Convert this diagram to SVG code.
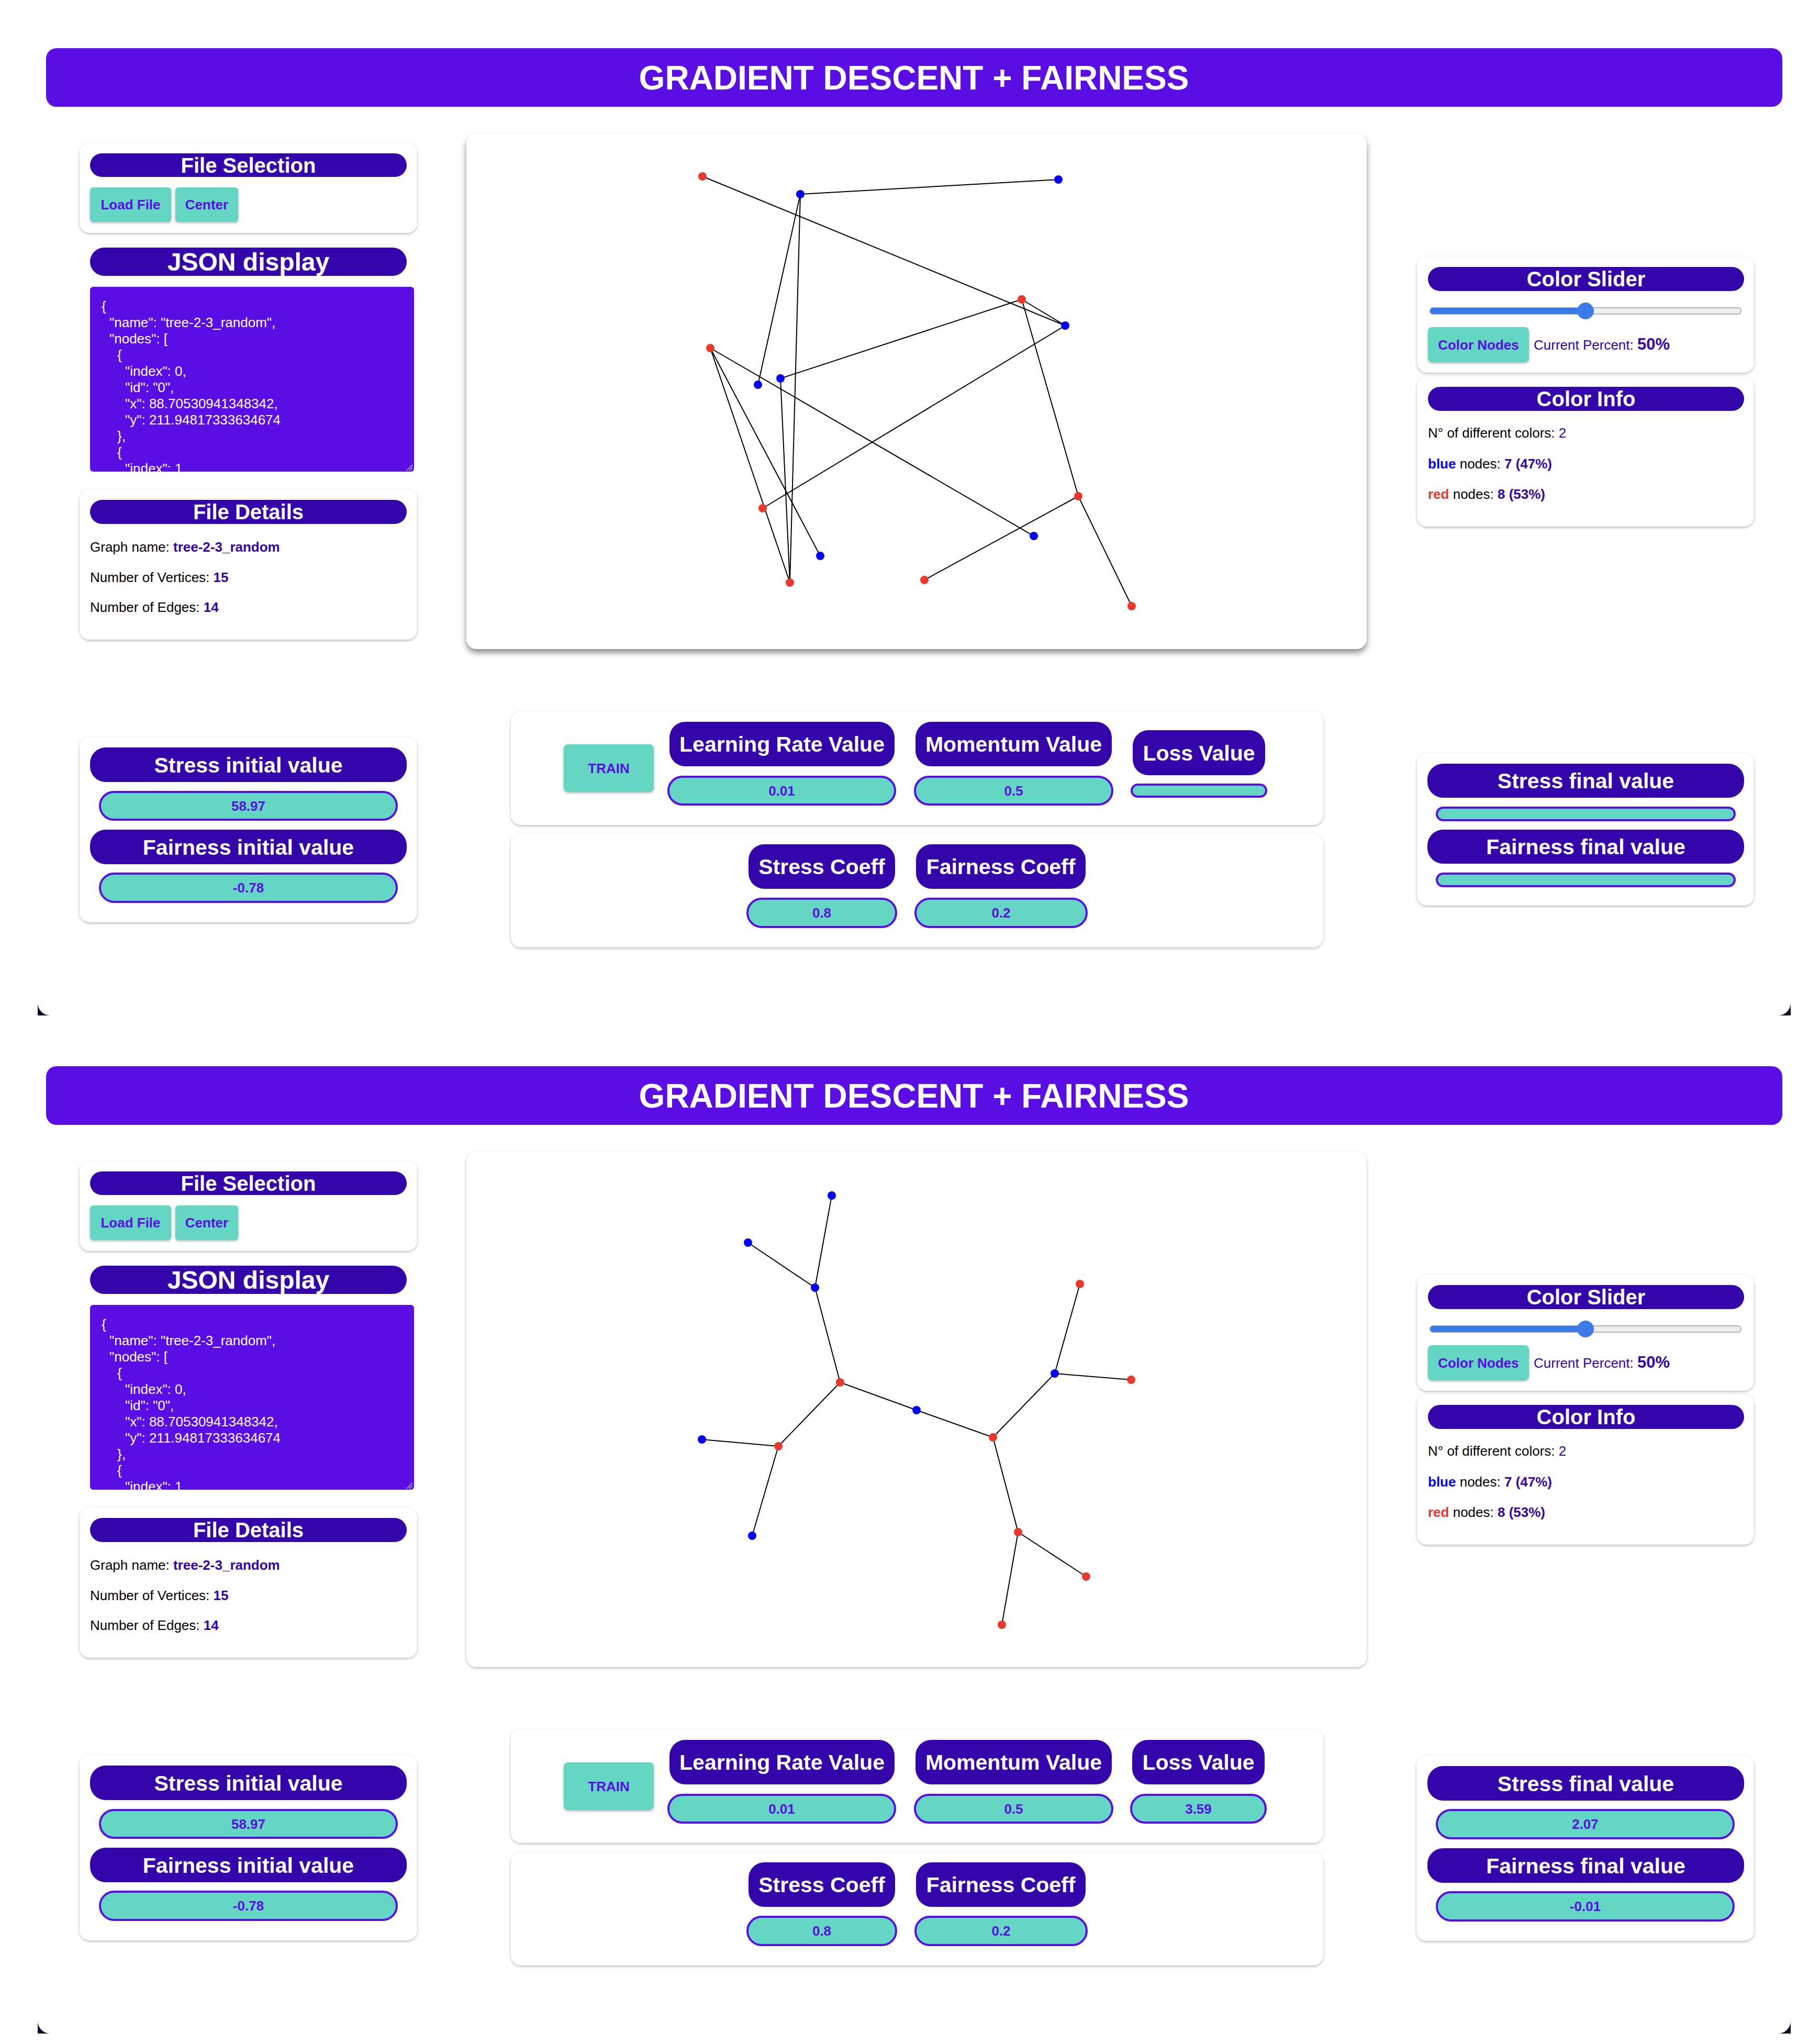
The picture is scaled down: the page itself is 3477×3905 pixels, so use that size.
<svg xmlns="http://www.w3.org/2000/svg" width="3477" height="3905" viewBox="0 0 3477 3905">
<defs>
<style>
text{font-family:"Liberation Sans",Arial,Helvetica,sans-serif}
.hdr{fill:#5a0de4}
.card{fill:#ffffff;filter:url(#shCard)}
.gpanel{fill:#ffffff}
.pill{fill:#3305aa}
.btn{fill:#64d6c4;filter:url(#shBtn)}
.val{fill:#64d6c4;stroke:#5a0de4;stroke-width:4}
.ttl{font-size:64px;font-weight:bold;fill:#ffffff;text-anchor:middle}
.ct{font-size:40px;font-weight:bold;fill:#ffffff;text-anchor:middle}
.jt{font-size:48px;font-weight:bold;fill:#ffffff;text-anchor:middle}
.pt{font-size:41px;font-weight:bold;fill:#ffffff;text-anchor:middle}
.bt{font-size:26px;font-weight:bold;fill:#5a0de4;text-anchor:middle}
.js{font-size:26px;fill:#ffffff}
.tx{font-size:26px;fill:#000000}
.em{font-weight:bold;fill:#3305aa}
.pc{fill:#3305aa}
.edge{stroke:#000000;stroke-width:2;fill:none}
.nr{fill:#e8392b}
.nb{fill:#0000ff}
.corner{fill:#0d0820}
</style>
<filter id="shCard" x="-5%" y="-10%" width="110%" height="125%">
<feDropShadow dx="0" dy="2" stdDeviation="2.5" flood-color="#000" flood-opacity="0.28"/>
</filter>
<filter id="shGraph" x="-5%" y="-5%" width="110%" height="115%">
<feDropShadow dx="0" dy="7" stdDeviation="6" flood-color="#000" flood-opacity="0.45"/>
</filter>
<filter id="shBtn" x="-10%" y="-10%" width="120%" height="140%">
<feDropShadow dx="0" dy="2" stdDeviation="2" flood-color="#000" flood-opacity="0.3"/>
</filter>
<clipPath id="jsonClip"><rect x="172" y="548" width="619" height="353" rx="6"/></clipPath>
</defs>
<rect x="0" y="0" width="3477" height="3905" fill="#ffffff"/>

<!-- ===================== SECTION 1 ===================== -->
<g id="section1">
<g id="s1-header">
<rect class="hdr" x="88" y="92" width="3317" height="112" rx="20"/>
<text class="ttl" x="1746" y="171">GRADIENT DESCENT + FAIRNESS</text>
</g>

<g id="s1-file-selection">
<rect class="card" x="152" y="273" width="645" height="172" rx="20"/>
<rect class="pill" x="172" y="293" width="605" height="45" rx="22.5"/>
<text class="ct" x="474.5" y="330">File Selection</text>
<rect class="btn" x="172" y="358" width="155" height="66" rx="6"/>
<text class="bt" x="249.5" y="400">Load File</text>
<rect class="btn" x="335" y="358" width="120" height="66" rx="6"/>
<text class="bt" x="395" y="400">Center</text>
</g>

<g id="s1-json-display">
<rect class="pill" x="172" y="473" width="605" height="54" rx="27"/>
<text class="jt" x="474.5" y="517">JSON display</text>
<rect class="hdr" x="172" y="548" width="619" height="353" rx="6"/>
<g clip-path="url(#jsonClip)">
<text class="js" x="194" y="594">{</text>
<text class="js" x="209" y="625">"name": "tree-2-3_random",</text>
<text class="js" x="209" y="656">"nodes": [</text>
<text class="js" x="224" y="687">{</text>
<text class="js" x="239" y="718">"index": 0,</text>
<text class="js" x="239" y="749">"id": "0",</text>
<text class="js" x="239" y="780">"x": 88.70530941348342,</text>
<text class="js" x="239" y="811">"y": 211.94817333634674</text>
<text class="js" x="224" y="842">},</text>
<text class="js" x="224" y="873">{</text>
<text class="js" x="239" y="904">"index": 1</text>
</g>
<path d="M777 899 L788 888 M782 899 L788 893" stroke="#b8b8b8" stroke-width="1.5" fill="none"/>
</g>

<g id="s1-file-details">
<rect class="card" x="152" y="935" width="645" height="287" rx="20"/>
<rect class="pill" x="172" y="955" width="605" height="46" rx="23"/>
<text class="ct" x="474.5" y="992">File Details</text>
<text class="tx" x="172" y="1054">Graph name: <tspan class="em">tree-2-3_random</tspan></text>
<text class="tx" x="172" y="1112">Number of Vertices: <tspan class="em">15</tspan></text>
<text class="tx" x="172" y="1169">Number of Edges: <tspan class="em">14</tspan></text>
</g>

<g id="s1-graph-panel">
<rect class="gpanel" x="891" y="255" width="1720" height="985" rx="20" filter="url(#shGraph)"/>
</g>

<g id="s1-connectors">
<line class="edge" x1="1529" y1="371" x2="2022" y2="343"/>
<line class="edge" x1="1529" y1="371" x2="1448" y2="735"/>
<line class="edge" x1="1529" y1="371" x2="1509" y2="1113"/>
<line class="edge" x1="1952" y1="572" x2="2035" y2="622"/>
<line class="edge" x1="1952" y1="572" x2="1491" y2="723"/>
<line class="edge" x1="1952" y1="572" x2="2060" y2="948"/>
<line class="edge" x1="1342" y1="337" x2="2035" y2="622"/>
<line class="edge" x1="2035" y1="622" x2="1457" y2="971"/>
<line class="edge" x1="1357" y1="665" x2="1975" y2="1024"/>
<line class="edge" x1="1357" y1="665" x2="1567" y2="1062"/>
<line class="edge" x1="1357" y1="665" x2="1509" y2="1113"/>
<line class="edge" x1="1491" y1="723" x2="1509" y2="1113"/>
<line class="edge" x1="2060" y1="948" x2="1766" y2="1108"/>
<line class="edge" x1="2060" y1="948" x2="2162" y2="1158"/>
</g>

<g id="s1-node-A"><circle class="nr" cx="1342" cy="337" r="8"/></g>
<g id="s1-node-B"><circle class="nb" cx="1529" cy="371" r="8"/></g>
<g id="s1-node-C"><circle class="nb" cx="2022" cy="343" r="8"/></g>
<g id="s1-node-D"><circle class="nr" cx="1952" cy="572" r="8"/></g>
<g id="s1-node-E"><circle class="nb" cx="2035" cy="622" r="8"/></g>
<g id="s1-node-F"><circle class="nr" cx="1357" cy="665" r="8"/></g>
<g id="s1-node-G"><circle class="nb" cx="1491" cy="723" r="8"/></g>
<g id="s1-node-H"><circle class="nb" cx="1448" cy="735" r="8"/></g>
<g id="s1-node-I"><circle class="nr" cx="1457" cy="971" r="8"/></g>
<g id="s1-node-J"><circle class="nb" cx="1567" cy="1062" r="8"/></g>
<g id="s1-node-K"><circle class="nr" cx="1509" cy="1113" r="8"/></g>
<g id="s1-node-L"><circle class="nr" cx="1766" cy="1108" r="8"/></g>
<g id="s1-node-M"><circle class="nb" cx="1975" cy="1024" r="8"/></g>
<g id="s1-node-N"><circle class="nr" cx="2060" cy="948" r="8"/></g>
<g id="s1-node-O"><circle class="nr" cx="2162" cy="1158" r="8"/></g>

<g id="s1-color-slider">
<rect class="card" x="2707" y="490" width="644" height="222" rx="20"/>
<rect class="pill" x="2728" y="510" width="604" height="46" rx="23"/>
<text class="ct" x="3030" y="547">Color Slider</text>
<rect x="2732" y="588" width="594" height="12" rx="6" fill="#efefef" stroke="#b2b2b2" stroke-width="2"/>
<rect x="2732" y="588" width="297" height="12" rx="6" fill="#3b7be8"/>
<circle cx="3029" cy="594" r="16" fill="#3b7be8"/>
<rect class="btn" x="2728" y="625" width="193" height="67" rx="8"/>
<text class="bt" x="2824.5" y="668">Color Nodes</text>
<text class="tx" x="2930" y="668"><tspan class="pc">Current Percent: </tspan><tspan class="em" font-size="31">50%</tspan></text>
</g>

<g id="s1-color-info">
<rect class="card" x="2707" y="719" width="644" height="287" rx="20"/>
<rect class="pill" x="2728" y="739" width="604" height="46" rx="23"/>
<text class="ct" x="3030" y="776">Color Info</text>
<text class="tx" x="2728" y="836">N° of different colors: <tspan class="pc">2</tspan></text>
<text class="tx" x="2728" y="895"><tspan font-weight="bold" fill="#0000ff">blue</tspan> nodes: <tspan class="em">7 (47%)</tspan></text>
<text class="tx" x="2728" y="953"><tspan font-weight="bold" fill="#e8392b">red</tspan> nodes: <tspan class="em">8 (53%)</tspan></text>
</g>

<g id="s1-initial-values">
<rect class="card" x="152" y="1408" width="645" height="354" rx="20"/>
<rect class="pill" x="172" y="1428" width="605" height="66" rx="30"/>
<text class="pt" x="474.5" y="1476">Stress initial value</text>
<rect class="val" x="191" y="1513" width="567" height="53" rx="26.5"/>
<text class="bt" x="474.5" y="1549">58.97</text>
<rect class="pill" x="172" y="1585" width="605" height="66" rx="30"/>
<text class="pt" x="474.5" y="1633">Fairness initial value</text>
<rect class="val" x="191" y="1669" width="567" height="54" rx="27"/>
<text class="bt" x="474.5" y="1705">-0.78</text>
</g>

<g id="s1-train-controls">
<rect class="card" x="976" y="1359" width="1552" height="217" rx="20"/>
<rect class="btn" x="1077" y="1422" width="172" height="91" rx="8"/>
<text class="bt" x="1163" y="1477">TRAIN</text>
<rect class="pill" x="1279" y="1379" width="430" height="85" rx="30"/>
<text class="pt" x="1494" y="1436">Learning Rate Value</text>
<rect class="val" x="1277" y="1484" width="433" height="53" rx="26.5"/>
<text class="bt" x="1493.5" y="1520">0.01</text>
<rect class="pill" x="1749" y="1379" width="375" height="85" rx="30"/>
<text class="pt" x="1936.5" y="1436">Momentum Value</text>
<rect class="val" x="1748" y="1484" width="377" height="53" rx="26.5"/>
<text class="bt" x="1936.5" y="1520">0.5</text>
<rect class="pill" x="2164" y="1395" width="253" height="86" rx="30"/>
<text class="pt" x="2290.5" y="1453">Loss Value</text>
<rect class="val" x="2162" y="1499" width="257" height="23" rx="11.5"/>
</g>

<g id="s1-coeff-controls">
<rect class="card" x="976" y="1593" width="1552" height="217" rx="20"/>
<rect class="pill" x="1430" y="1613" width="280" height="85" rx="30"/>
<text class="pt" x="1570" y="1670">Stress Coeff</text>
<rect class="val" x="1428" y="1717" width="284" height="54" rx="27"/>
<text class="bt" x="1570" y="1753">0.8</text>
<rect class="pill" x="1750" y="1613" width="324" height="85" rx="30"/>
<text class="pt" x="1912" y="1670">Fairness Coeff</text>
<rect class="val" x="1749" y="1717" width="327" height="54" rx="27"/>
<text class="bt" x="1912.5" y="1753">0.2</text>
</g>

<g id="s1-final-values">
<rect class="card" x="2707" y="1439" width="644" height="291" rx="20"/>
<rect class="pill" x="2727" y="1459" width="605" height="65" rx="30"/>
<text class="pt" x="3029.5" y="1506">Stress final value</text>
<rect class="val" x="2745" y="1543" width="569" height="24" rx="12"/>
<rect class="pill" x="2727" y="1585" width="605" height="65" rx="30"/>
<text class="pt" x="3029.5" y="1632">Fairness final value</text>
<rect class="val" x="2745" y="1669" width="569" height="24" rx="12"/>
</g>

<g id="s1-corners">
<path class="corner" d="M72 1916 A24 24 0 0 0 96 1940 L72 1940 Z"/>
<path class="corner" d="M3421 1916 A24 24 0 0 1 3397 1940 L3421 1940 Z"/>
</g>
</g>

<!-- ===================== SECTION 2 ===================== -->
<g id="section2" transform="translate(0,1945)">
<g id="s2-header">
<rect class="hdr" x="88" y="92" width="3317" height="112" rx="20"/>
<text class="ttl" x="1746" y="171">GRADIENT DESCENT + FAIRNESS</text>
</g>

<g id="s2-file-selection">
<rect class="card" x="152" y="273" width="645" height="172" rx="20"/>
<rect class="pill" x="172" y="293" width="605" height="45" rx="22.5"/>
<text class="ct" x="474.5" y="330">File Selection</text>
<rect class="btn" x="172" y="358" width="155" height="66" rx="6"/>
<text class="bt" x="249.5" y="400">Load File</text>
<rect class="btn" x="335" y="358" width="120" height="66" rx="6"/>
<text class="bt" x="395" y="400">Center</text>
</g>

<g id="s2-json-display">
<rect class="pill" x="172" y="473" width="605" height="54" rx="27"/>
<text class="jt" x="474.5" y="517">JSON display</text>
<rect class="hdr" x="172" y="548" width="619" height="353" rx="6"/>
<g clip-path="url(#jsonClip)">
<text class="js" x="194" y="594">{</text>
<text class="js" x="209" y="625">"name": "tree-2-3_random",</text>
<text class="js" x="209" y="656">"nodes": [</text>
<text class="js" x="224" y="687">{</text>
<text class="js" x="239" y="718">"index": 0,</text>
<text class="js" x="239" y="749">"id": "0",</text>
<text class="js" x="239" y="780">"x": 88.70530941348342,</text>
<text class="js" x="239" y="811">"y": 211.94817333634674</text>
<text class="js" x="224" y="842">},</text>
<text class="js" x="224" y="873">{</text>
<text class="js" x="239" y="904">"index": 1</text>
</g>
<path d="M777 899 L788 888 M782 899 L788 893" stroke="#b8b8b8" stroke-width="1.5" fill="none"/>
</g>

<g id="s2-file-details">
<rect class="card" x="152" y="935" width="645" height="287" rx="20"/>
<rect class="pill" x="172" y="955" width="605" height="46" rx="23"/>
<text class="ct" x="474.5" y="992">File Details</text>
<text class="tx" x="172" y="1054">Graph name: <tspan class="em">tree-2-3_random</tspan></text>
<text class="tx" x="172" y="1112">Number of Vertices: <tspan class="em">15</tspan></text>
<text class="tx" x="172" y="1169">Number of Edges: <tspan class="em">14</tspan></text>
</g>

<g id="s2-graph-panel">
<rect class="card" x="891" y="255" width="1720" height="985" rx="20"/>
</g>

<g id="s2-connectors">
<line class="edge" x1="1589" y1="339" x2="1557" y2="515"/>
<line class="edge" x1="1429" y1="429" x2="1557" y2="515"/>
<line class="edge" x1="1557" y1="515" x2="1605" y2="696"/>
<line class="edge" x1="1605" y1="696" x2="1751" y2="749"/>
<line class="edge" x1="1605" y1="696" x2="1487" y2="818"/>
<line class="edge" x1="1751" y1="749" x2="1897" y2="801"/>
<line class="edge" x1="1897" y1="801" x2="2015" y2="679"/>
<line class="edge" x1="1897" y1="801" x2="1945" y2="982"/>
<line class="edge" x1="2015" y1="679" x2="2063" y2="508"/>
<line class="edge" x1="2015" y1="679" x2="2161" y2="691"/>
<line class="edge" x1="1945" y1="982" x2="2075" y2="1067"/>
<line class="edge" x1="1945" y1="982" x2="1914" y2="1159"/>
<line class="edge" x1="1487" y1="818" x2="1341" y2="805"/>
<line class="edge" x1="1487" y1="818" x2="1437" y2="989"/>
</g>

<g id="s2-node-b1"><circle class="nb" cx="1589" cy="339" r="8"/></g>
<g id="s2-node-b2"><circle class="nb" cx="1429" cy="429" r="8"/></g>
<g id="s2-node-b3"><circle class="nb" cx="1557" cy="515" r="8"/></g>
<g id="s2-node-r1"><circle class="nr" cx="1605" cy="696" r="8"/></g>
<g id="s2-node-b4"><circle class="nb" cx="1751" cy="749" r="8"/></g>
<g id="s2-node-r2"><circle class="nr" cx="1897" cy="801" r="8"/></g>
<g id="s2-node-b5"><circle class="nb" cx="2015" cy="679" r="8"/></g>
<g id="s2-node-r3"><circle class="nr" cx="2063" cy="508" r="8"/></g>
<g id="s2-node-r4"><circle class="nr" cx="2161" cy="691" r="8"/></g>
<g id="s2-node-r5"><circle class="nr" cx="1945" cy="982" r="8"/></g>
<g id="s2-node-r6"><circle class="nr" cx="2075" cy="1067" r="8"/></g>
<g id="s2-node-r7"><circle class="nr" cx="1914" cy="1159" r="8"/></g>
<g id="s2-node-r8"><circle class="nr" cx="1487" cy="818" r="8"/></g>
<g id="s2-node-b6"><circle class="nb" cx="1341" cy="805" r="8"/></g>
<g id="s2-node-b7"><circle class="nb" cx="1437" cy="989" r="8"/></g>

<g id="s2-color-slider">
<rect class="card" x="2707" y="490" width="644" height="222" rx="20"/>
<rect class="pill" x="2728" y="510" width="604" height="46" rx="23"/>
<text class="ct" x="3030" y="547">Color Slider</text>
<rect x="2732" y="588" width="594" height="12" rx="6" fill="#efefef" stroke="#b2b2b2" stroke-width="2"/>
<rect x="2732" y="588" width="297" height="12" rx="6" fill="#3b7be8"/>
<circle cx="3029" cy="594" r="16" fill="#3b7be8"/>
<rect class="btn" x="2728" y="625" width="193" height="67" rx="8"/>
<text class="bt" x="2824.5" y="668">Color Nodes</text>
<text class="tx" x="2930" y="668"><tspan class="pc">Current Percent: </tspan><tspan class="em" font-size="31">50%</tspan></text>
</g>

<g id="s2-color-info">
<rect class="card" x="2707" y="719" width="644" height="287" rx="20"/>
<rect class="pill" x="2728" y="739" width="604" height="46" rx="23"/>
<text class="ct" x="3030" y="776">Color Info</text>
<text class="tx" x="2728" y="836">N° of different colors: <tspan class="pc">2</tspan></text>
<text class="tx" x="2728" y="895"><tspan font-weight="bold" fill="#0000ff">blue</tspan> nodes: <tspan class="em">7 (47%)</tspan></text>
<text class="tx" x="2728" y="953"><tspan font-weight="bold" fill="#e8392b">red</tspan> nodes: <tspan class="em">8 (53%)</tspan></text>
</g>

<g id="s2-initial-values">
<rect class="card" x="152" y="1408" width="645" height="354" rx="20"/>
<rect class="pill" x="172" y="1428" width="605" height="66" rx="30"/>
<text class="pt" x="474.5" y="1476">Stress initial value</text>
<rect class="val" x="191" y="1513" width="567" height="53" rx="26.5"/>
<text class="bt" x="474.5" y="1549">58.97</text>
<rect class="pill" x="172" y="1585" width="605" height="66" rx="30"/>
<text class="pt" x="474.5" y="1633">Fairness initial value</text>
<rect class="val" x="191" y="1669" width="567" height="54" rx="27"/>
<text class="bt" x="474.5" y="1705">-0.78</text>
</g>

<g id="s2-train-controls">
<rect class="card" x="976" y="1359" width="1552" height="217" rx="20"/>
<rect class="btn" x="1077" y="1422" width="172" height="91" rx="8"/>
<text class="bt" x="1163" y="1477">TRAIN</text>
<rect class="pill" x="1279" y="1379" width="430" height="85" rx="30"/>
<text class="pt" x="1494" y="1436">Learning Rate Value</text>
<rect class="val" x="1277" y="1484" width="433" height="53" rx="26.5"/>
<text class="bt" x="1493.5" y="1520">0.01</text>
<rect class="pill" x="1749" y="1379" width="375" height="85" rx="30"/>
<text class="pt" x="1936.5" y="1436">Momentum Value</text>
<rect class="val" x="1748" y="1484" width="377" height="53" rx="26.5"/>
<text class="bt" x="1936.5" y="1520">0.5</text>
<rect class="pill" x="2163" y="1379" width="253" height="85" rx="30"/>
<text class="pt" x="2289.5" y="1436">Loss Value</text>
<rect class="val" x="2161" y="1484" width="257" height="53" rx="26.5"/>
<text class="bt" x="2289.5" y="1520">3.59</text>
</g>

<g id="s2-coeff-controls">
<rect class="card" x="976" y="1593" width="1552" height="217" rx="20"/>
<rect class="pill" x="1430" y="1613" width="280" height="85" rx="30"/>
<text class="pt" x="1570" y="1670">Stress Coeff</text>
<rect class="val" x="1428" y="1717" width="284" height="54" rx="27"/>
<text class="bt" x="1570" y="1753">0.8</text>
<rect class="pill" x="1750" y="1613" width="324" height="85" rx="30"/>
<text class="pt" x="1912" y="1670">Fairness Coeff</text>
<rect class="val" x="1749" y="1717" width="327" height="54" rx="27"/>
<text class="bt" x="1912.5" y="1753">0.2</text>
</g>

<g id="s2-final-values">
<rect class="card" x="2706" y="1409" width="645" height="354" rx="20"/>
<rect class="pill" x="2727" y="1429" width="605" height="66" rx="30"/>
<text class="pt" x="3029.5" y="1477">Stress final value</text>
<rect class="val" x="2745" y="1513" width="567" height="54" rx="27"/>
<text class="bt" x="3028.5" y="1549">2.07</text>
<rect class="pill" x="2727" y="1586" width="605" height="66" rx="30"/>
<text class="pt" x="3029.5" y="1634">Fairness final value</text>
<rect class="val" x="2745" y="1670" width="567" height="54" rx="27"/>
<text class="bt" x="3028.5" y="1706">-0.01</text>
</g>

<g id="s2-corners">
<path class="corner" d="M72 1916 A24 24 0 0 0 96 1940 L72 1940 Z"/>
<path class="corner" d="M3421 1916 A24 24 0 0 1 3397 1940 L3421 1940 Z"/>
</g>
</g>
</svg>
